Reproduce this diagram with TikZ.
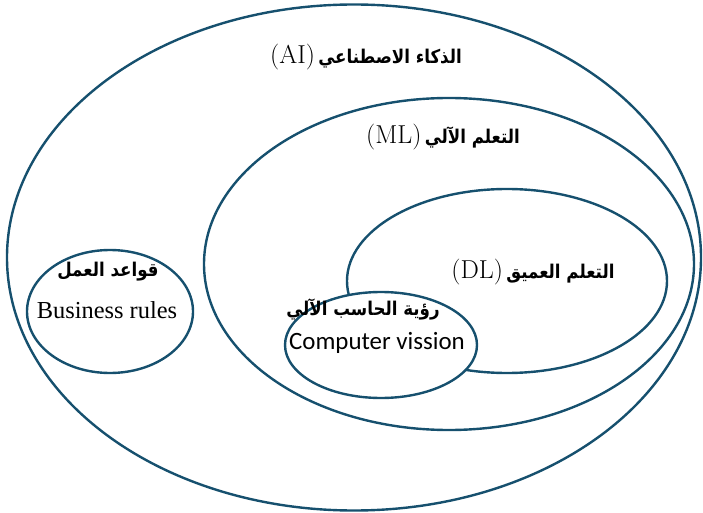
\documentclass[tikz,border=0pt]{standalone}
\usepackage{fontspec}
\usepackage{graphicx}
\usetikzlibrary{shapes.geometric}
\TeXXeTstate=1
\newfontfamily\arabicfont[Script=Arabic]{DejaVu Sans}
\newfontfamily\carlito{Carlito}
\newfontfamily\libserif{Liberation Serif}
\definecolor{ringc}{HTML}{16506E}
\newcommand\artxt[1]{\scalebox{0.88}[1]{\arabicfont\bfseries\fontsize{19}{21}\selectfont\beginR #1\endR}}
\newcommand\lmbig[1]{{\fontsize{26}{28}\selectfont #1}}
\begin{document}
\begin{tikzpicture}[x=1bp,y=-1bp]
\tikzset{
  ringshape/.style={draw=ringc, line width=2.4bp, ellipse, inner sep=0pt, outer sep=0pt},
  lbl/.style={inner sep=0pt, outer sep=0pt, text=black},
}
\useasboundingbox (0,0) rectangle (703,513);
\node[ringshape, minimum width=694bp, minimum height=506bp] (ai) at (354,257.5) {};
\node[ringshape, minimum width=490bp, minimum height=332bp] (ml) at (449,264) {};
\node[ringshape, minimum width=320bp, minimum height=184bp] (dl) at (507,281) {};
\node[ringshape, fill=white, minimum width=192bp, minimum height=106bp] (cv) at (381,345) {};
\node[ringshape, fill=white, minimum width=166bp, minimum height=123bp] (br) at (110,311.5) {};

\node[lbl] (ait) at (366,57) {\lmbig{(AI)} \artxt{الذكاء الاصطناعي}};
\node[lbl] (mlt) at (443,137) {\lmbig{(ML)} \artxt{التعلم الآلي}};
\node[lbl] (dlt) at (533,272) {\lmbig{(DL)} \artxt{التعلم العميق}};
\node[lbl] (cva) at (363,309) {\artxt{رؤية الحاسب الآلي}};
\node[lbl, font=\carlito\fontsize{25}{27}\selectfont] (cvl) at (377,343) {Computer vission};
\node[lbl] (bra) at (108,272) {\artxt{قواعد العمل}};
\node[lbl, font=\libserif\fontsize{24.5}{26}\selectfont] (brl) at (107,310) {Business rules};
\end{tikzpicture}
\end{document}
